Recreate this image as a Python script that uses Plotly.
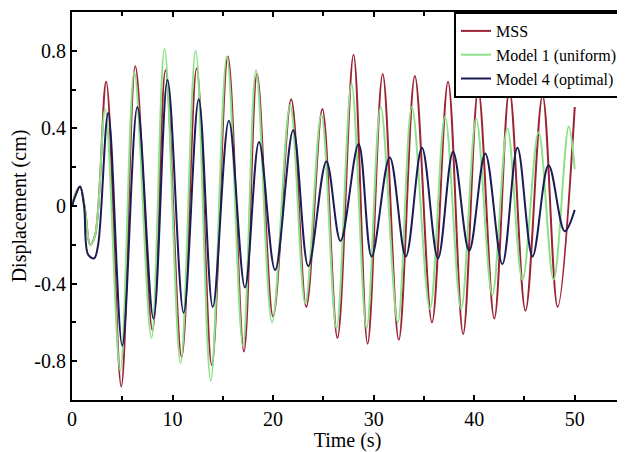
import plotly.graph_objects as go

# ---- data (extrema + early wiggle) ----
mss_t = [0, 0.4, 0.8, 1.3, 1.8, 2.3, 3.4, 4.9, 6.3, 8.0, 9.3, 10.9, 12.4, 13.9, 15.5, 17.1,
         18.4, 20.0, 21.8, 23.3, 24.9, 26.4, 28.0, 29.4, 30.9, 32.5, 34.1, 35.8, 37.4, 38.9,
         40.4, 42.0, 43.5, 45.1, 46.8, 48.3, 50.0]
mss_v = [0, 0.07, 0.10, -0.02, -0.20, -0.15, 0.64, -0.93, 0.72, -0.64, 0.70, -0.78, 0.71, -0.82,
         0.77, -0.75, 0.68, -0.57, 0.55, -0.52, 0.50, -0.68, 0.78, -0.71, 0.68, -0.69, 0.67,
         -0.60, 0.64, -0.66, 0.60, -0.58, 0.60, -0.54, 0.57, -0.52, 0.51]

m1_t = [0, 0.4, 0.8, 1.3, 1.8, 2.3, 3.3, 4.8, 6.2, 7.9, 9.2, 10.8, 12.3, 13.8, 15.4, 17.0,
        18.3, 19.9, 21.7, 23.2, 24.8, 26.3, 27.8, 29.3, 30.7, 32.4, 33.8, 35.6, 37.1, 38.7,
        40.2, 41.8, 43.3, 44.8, 46.4, 47.9, 49.4, 50.0]
m1_v = [0, 0.07, 0.10, -0.02, -0.20, -0.15, 0.50, -0.85, 0.69, -0.68, 0.81, -0.81, 0.80, -0.90,
        0.77, -0.72, 0.70, -0.60, 0.52, -0.50, 0.47, -0.63, 0.63, -0.63, 0.51, -0.60, 0.51,
        -0.53, 0.46, -0.53, 0.45, -0.46, 0.40, -0.38, 0.38, -0.38, 0.41, 0.19]

m4_t = [0, 0.4, 0.8, 1.2, 1.6, 2.2, 2.6, 3.6, 5.0, 6.5, 8.1, 9.5, 11.1, 12.6, 14.0, 15.6, 17.2,
        18.6, 20.2, 22.0, 23.5, 25.3, 26.7, 28.5, 29.8, 31.6, 33.2, 34.8, 36.4, 37.9, 39.5,
        41.1, 42.8, 44.3, 45.8, 47.4, 49.0, 50.0]
m4_v = [0, 0.06, 0.10, 0.00, -0.25, -0.27, -0.20, 0.48, -0.72, 0.51, -0.58, 0.65, -0.55, 0.55,
        -0.52, 0.44, -0.42, 0.33, -0.33, 0.39, -0.31, 0.23, -0.18, 0.32, -0.26, 0.25, -0.26,
        0.30, -0.27, 0.28, -0.23, 0.27, -0.30, 0.30, -0.26, 0.21, -0.13, -0.02]

x_ticks = [0, 10, 20, 30, 40, 50]
y_ticks = [-0.8, -0.4, 0, 0.4, 0.8]
y_labels = ["-0.8", "-0.4", "0", "0.4", "0.8"]

series = [
    ("MSS", mss_t, mss_v, "#9B2335"),
    ("Model 1 (uniform)", m1_t, m1_v, "#8EE08A"),
    ("Model 4 (optimal)", m4_t, m4_v, "#1B1B55"),
]

font_family = "Times New Roman, Liberation Serif, serif"

fig = go.Figure()
for name, t, v, c in series:
    fig.add_trace(go.Scatter(x=t, y=v, mode="lines", name=name,
                             line=dict(color=c, width=2, shape="spline", smoothing=1)))

axis_common = dict(showline=True, linecolor="black", linewidth=2, mirror="ticks",
                   ticks="inside", ticklen=5, tickcolor="black", tickwidth=1.5,
                   showgrid=False, zeroline=False, automargin=False,
                   tickfont=dict(family=font_family, size=20, color="black"))

fig.update_xaxes(range=[0, 54.8], tickvals=x_ticks,
                 minor=dict(dtick=5, tick0=0, ticks="inside", ticklen=4, tickcolor="black"),
                 title=dict(text="Time (s)", font=dict(family=font_family, size=20, color="black"),
                            standoff=2),
                 **axis_common)
fig.update_yaxes(range=[-1.0, 1.0], tickvals=y_ticks, ticktext=y_labels,
                 minor=dict(dtick=0.2, tick0=0, ticks="inside", ticklen=4, tickcolor="black"),
                 title=dict(text="Displacement (cm)", font=dict(family=font_family, size=20, color="black"),
                            standoff=4),
                 **axis_common)

# the page body adds an 8px offset, so the figure is sized to fit the 625x452 window
fig.update_layout(
    width=617, height=444,
    margin=dict(l=64, r=2, t=4, b=52),
    paper_bgcolor="white", plot_bgcolor="white",
    font=dict(family=font_family),
    showlegend=True,
    legend=dict(x=1, y=1, xanchor="right", yanchor="top",
                bgcolor="white", bordercolor="black", borderwidth=2,
                font=dict(family=font_family, size=16, color="black"),
                itemwidth=30),
)

fig.write_html("out.html")
